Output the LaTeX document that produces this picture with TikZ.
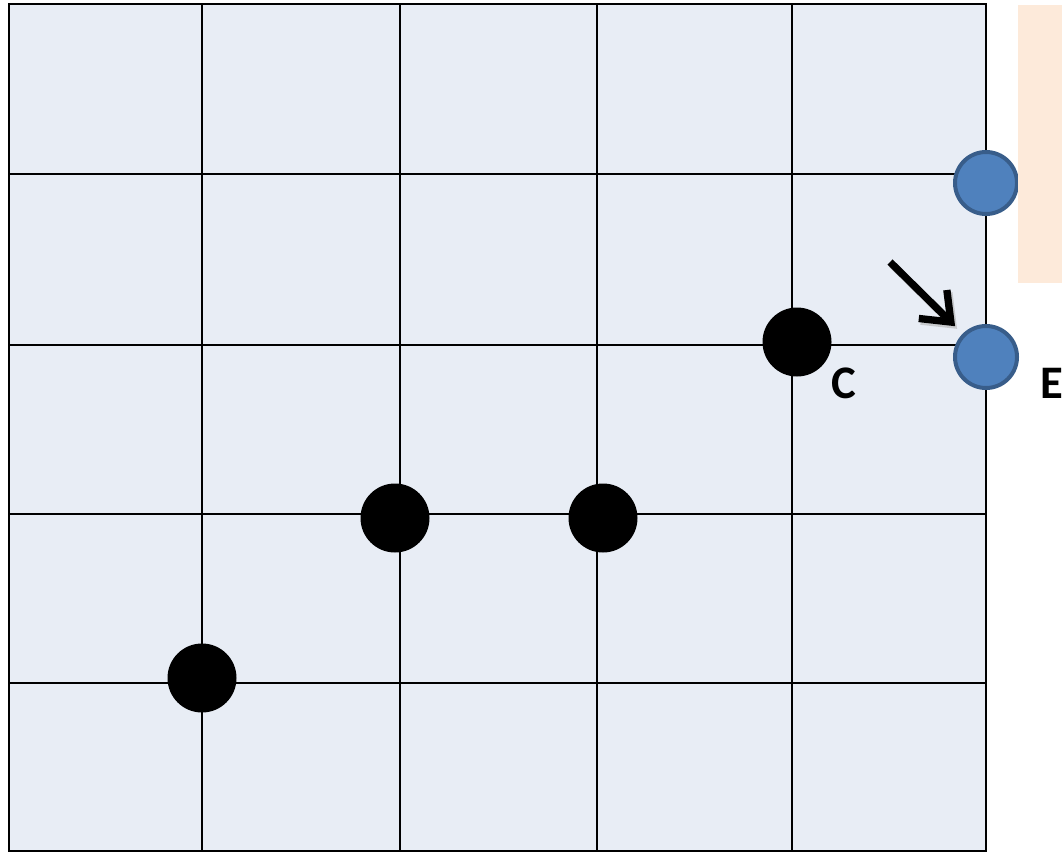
\documentclass[tikz,border=0pt]{standalone}
\usepackage{fontspec}
\setsansfont{Carlito}
\definecolor{gridFill}{RGB}{232,237,245}
\definecolor{peachFill}{RGB}{253,234,218}
\definecolor{stoneBlue}{RGB}{79,129,189}
\definecolor{stoneEdge}{RGB}{56,93,138}
\usetikzlibrary{arrows.meta, positioning}

\begin{document}
\begin{tikzpicture}[
    x=0.75pt, y=-0.75pt,
    gridline/.style={draw=black, line width=1.9pt},
    stone/.style={circle, fill=black, inner sep=0pt, minimum size=51.75pt},
    blue stone/.style={circle, fill=stoneBlue, draw=stoneEdge, line width=3pt,
                       inner sep=0pt, minimum size=46.5pt},
    lbl/.style={font=\sffamily\bfseries\fontsize{35}{40}\selectfont, inner sep=0pt},
    pointer/.style={line width=5.5pt, -{Straight Barb[length=19pt, width=30pt]}}
  ]
    \useasboundingbox (0,0) rectangle (1062,853);

    % board
    \fill[gridFill] (9,4) rectangle (986,851);
    \foreach \x in {9,202,400,597,792,986}
      \draw[gridline] (\x,4) -- (\x,851);
    \foreach \y in {4,174,345,514,683,851}
      \draw[gridline] (9,\y) -- (986,\y);
    \draw[line width=2.1pt] (9,4) rectangle (986,851);

    % black stones
    \node[stone] (s1) at (202,678) {};
    \node[stone] (s2) at (395,518) {};
    \node[stone] (s3) at (603,518) {};
    \node[stone] (s4) at (797,342) {};
    \node[lbl] (labC) at (844,383) {C};

    % blue stones
    \node[blue stone] (b1) at (986,183) {};
    \node[blue stone] (b2) at (986,357) {};
    \node[lbl] (labE) at (1052,383) {E};

    % side panel
    \fill[peachFill] (1018,5) rectangle (1064,283);

    % pointer to E
    \coordinate (tail) at (890,262);
    \draw[pointer, black!30, opacity=0.6, transform canvas={xshift=1.5pt, yshift=-2pt},
          shorten >=8pt] (tail) -- (b2.north west);
    \draw[pointer, shorten >=8pt] (tail) -- (b2.north west);
  \end{tikzpicture}
\end{document}
